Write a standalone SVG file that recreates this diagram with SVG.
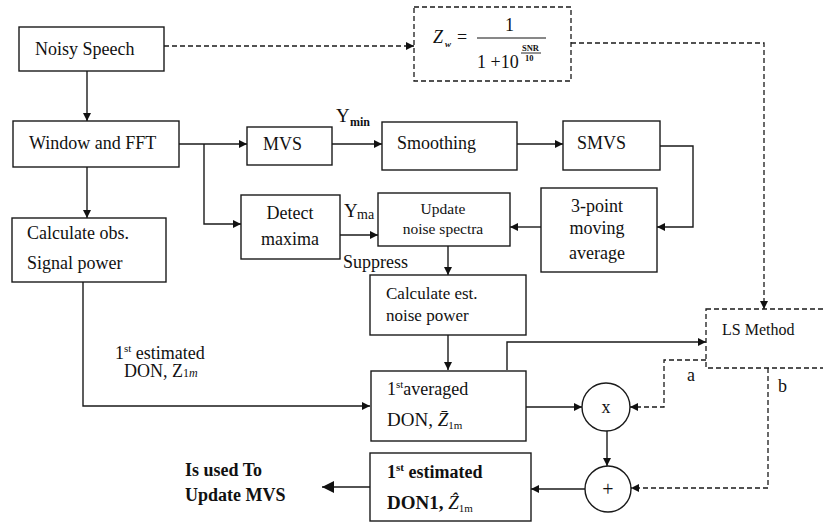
<svg xmlns="http://www.w3.org/2000/svg" width="823" height="523" viewBox="0 0 823 523">
<style>
.box{fill:#fff;stroke:#1a1a1a;stroke-width:1.4}
.dbox{fill:#fff;stroke:#1a1a1a;stroke-width:1.3;stroke-dasharray:5 3}
.ln{fill:none;stroke:#1a1a1a;stroke-width:1.4}
.dl{fill:none;stroke:#1a1a1a;stroke-width:1.3;stroke-dasharray:5 3}
text{font-family:"Liberation Serif","Times New Roman",serif;font-size:18px;fill:#111}
.b{font-weight:bold}
</style>
<defs>
<marker id="ah" viewBox="0 0 10 10" refX="10" refY="5" markerWidth="9" markerHeight="8" markerUnits="userSpaceOnUse" orient="auto"><path d="M0,0 L10,5 L0,10 z" fill="#111"/></marker>
<marker id="ahb" viewBox="0 0 10 10" refX="10" refY="5" markerWidth="12" markerHeight="12" markerUnits="userSpaceOnUse" orient="auto"><path d="M0,0 L10,5 L0,10 z" fill="#111"/></marker>
</defs>

<g id="connectors">
<path class="dl" d="M164,46 H414" marker-end="url(#ah)"/>
<path class="dl" d="M571,43 H764 V309" marker-end="url(#ah)"/>
<path class="ln" d="M87,71 V121" marker-end="url(#ah)"/>
<path class="ln" d="M87,167 V218" marker-end="url(#ah)"/>
<path class="ln" d="M179,144 H247" marker-end="url(#ah)"/>
<path class="ln" d="M204,144 V224 H241" marker-end="url(#ah)"/>
<path class="ln" d="M332,144 H382" marker-end="url(#ah)"/>
<path class="ln" d="M517,144 H563" marker-end="url(#ah)"/>
<path class="ln" d="M660,146 H693 V227 H657" marker-end="url(#ah)"/>
<path class="ln" d="M541,227 H510" marker-end="url(#ah)"/>
<path class="ln" d="M340,235 H378" marker-end="url(#ah)"/>
<path class="ln" d="M448,246 V275" marker-end="url(#ah)"/>
<path class="ln" d="M448,335 V370" marker-end="url(#ah)"/>
<path class="ln" d="M83,282 V406 H370" marker-end="url(#ah)"/>
<path class="ln" d="M507,370 V342 H706" marker-end="url(#ah)"/>
<path class="ln" d="M526,407 H582" marker-end="url(#ah)"/>
<path class="dl" d="M706,360 H664 V407 H630" marker-end="url(#ah)"/>
<path class="ln" d="M607,431 V466" marker-end="url(#ah)"/>
<path class="dl" d="M768,368 V488 H631" marker-end="url(#ah)"/>
<path class="ln" d="M585,489 H531" marker-end="url(#ah)"/>
<path class="ln" d="M370,487 H322" stroke-width="4" marker-end="url(#ahb)"/>
</g>

<g id="noisy-speech"><rect class="box" x="19" y="27" width="145" height="44"/><text x="35" y="55">Noisy Speech</text></g>

<g id="formula"><rect class="dbox" x="414" y="7" width="157" height="74"/>
<text x="433" y="43" style="font-style:italic">Z</text><text x="445" y="47" style="font-size:9px;font-style:italic;font-weight:bold">w</text>
<text x="457" y="43">=</text>
<line x1="477" y1="38" x2="546" y2="38" stroke="#111" stroke-width="1"/>
<text x="505" y="31">1</text>
<text x="477" y="68">1 +10</text>
<text x="522" y="51" style="font-size:8.5px;font-weight:bold">SNR</text>
<line x1="521" y1="53" x2="541" y2="53" stroke="#111" stroke-width="0.9"/>
<text x="525" y="61" style="font-size:8.5px;font-weight:bold">10</text>
</g>

<g id="window-fft"><rect class="box" x="13" y="121" width="166" height="46"/><text x="29" y="149">Window and FFT</text></g>
<g id="mvs"><rect class="box" x="247" y="127" width="85" height="38"/><text x="263" y="150">MVS</text></g>
<g id="ymin"><text x="336" y="122" style="font-size:19px">Y</text><text x="350" y="126" style="font-size:12px;font-weight:bold">min</text></g>
<g id="smoothing"><rect class="box" x="382" y="122" width="135" height="48"/><text x="397" y="149">Smoothing</text></g>
<g id="smvs"><rect class="box" x="563" y="121" width="97" height="49"/><text x="577" y="149">SMVS</text></g>
<g id="three-point"><rect class="box" x="541" y="188" width="116" height="84"/>
<text x="597" y="212" text-anchor="middle">3-point</text><text x="597" y="234" text-anchor="middle">moving</text><text x="597" y="259" text-anchor="middle">average</text></g>
<g id="update"><rect class="box" x="378" y="193" width="132" height="53"/>
<text x="443" y="214" text-anchor="middle" style="font-size:15.5px">Update</text><text x="443" y="234" text-anchor="middle" style="font-size:15.5px">noise spectra</text></g>
<g id="detect"><rect class="box" x="241" y="195" width="99" height="64"/>
<text x="290" y="219" text-anchor="middle">Detect</text><text x="290" y="245" text-anchor="middle">maxima</text></g>
<g id="ymax"><text x="344" y="217" style="font-size:19px">Y</text><text x="357" y="219" style="font-size:14px">ma</text></g>
<g id="suppress"><text x="343" y="268">Suppress</text></g>
<g id="calc-obs"><rect class="box" x="12" y="218" width="154" height="64"/>
<text x="27" y="239">Calculate obs.</text><text x="27" y="269">Signal power</text></g>
<g id="calc-est"><rect class="box" x="370" y="275" width="156" height="60"/>
<text x="386" y="299" style="font-size:17px">Calculate est.</text><text x="386" y="321" style="font-size:17px">noise power</text></g>
<g id="ls-method"><rect class="dbox" x="706" y="309" width="130" height="59"/><text x="722" y="335" style="font-size:16px">LS Method</text></g>
<g id="label-a"><text x="687" y="381">a</text></g>
<g id="label-b"><text x="778" y="392">b</text></g>
<g id="est-don-label"><text x="115" y="359">1<tspan style="font-size:11px" dy="-7">st</tspan><tspan dy="7"> estimated</tspan></text>
<text x="124" y="377">DON, Z<tspan style="font-size:12px">1<tspan style="font-style:italic">m</tspan></tspan></text></g>
<g id="averaged"><rect class="box" x="371" y="371" width="155" height="70"/>
<text x="387" y="395">1<tspan style="font-size:11px" dy="-7">st</tspan><tspan dy="7">averaged</tspan></text>
<text x="387" y="426" style="font-size:19px">DON, <tspan style="font-style:italic">Z&#x304;</tspan><tspan style="font-size:11px" dy="3">1m</tspan></text></g>
<g id="mult"><circle class="box" cx="606" cy="407" r="24"/><text x="606" y="413" text-anchor="middle">x</text></g>
<g id="plus"><circle class="box" cx="608" cy="489" r="23"/><text x="608" y="496" text-anchor="middle" style="font-size:20px">+</text></g>
<g id="estimated"><rect class="box" x="370" y="453" width="161" height="68"/>
<text class="b" x="387" y="478">1<tspan style="font-size:11px" dy="-7">st</tspan><tspan dy="7"> estimated</tspan></text>
<text class="b" x="387" y="509" style="font-size:19px">DON1, <tspan style="font-weight:normal;font-style:italic">Z&#x302;</tspan><tspan style="font-weight:normal;font-size:11px" dy="3">1m</tspan></text></g>
<g id="used-to"><text class="b" x="185" y="476">Is used To</text><text class="b" x="185" y="501">Update MVS</text></g>
</svg>
